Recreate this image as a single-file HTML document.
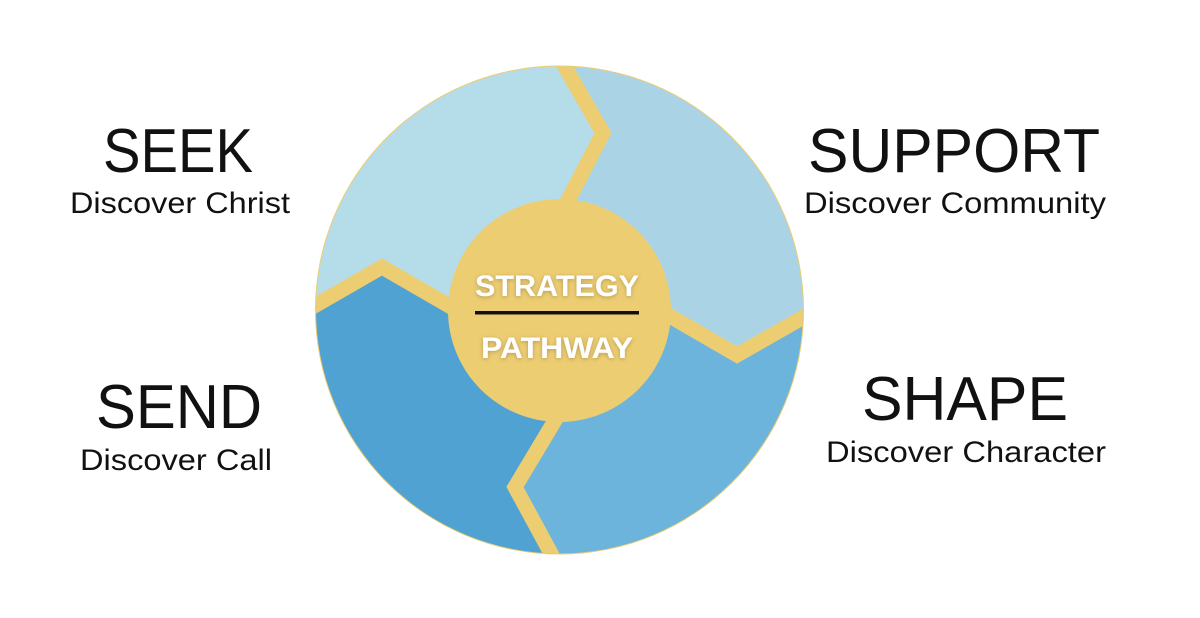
<!DOCTYPE html>
<html><head><meta charset="utf-8"><style>
html,body{margin:0;padding:0;background:#fff;width:1200px;height:618px;overflow:hidden}
svg{display:block}
text{font-family:"Liberation Sans",sans-serif}
</style></head><body>
<svg width="1200" height="618" viewBox="0 0 1200 618" xmlns="http://www.w3.org/2000/svg">
<defs>
<clipPath id="c"><circle cx="559.5" cy="310" r="243.5"/></clipPath>
<filter id="sh" x="-20%" y="-50%" width="140%" height="200%"><feDropShadow dx="0" dy="1" stdDeviation="2" flood-color="#000" flood-opacity="0.25"/></filter>
</defs>
<circle cx="559.5" cy="310" r="244.5" fill="#edcd72"/>
<g clip-path="url(#c)">
<polygon fill="#b5dce9" points="559,310 563,200 603,133 565,67 565,0 0,0 0,305 316,305 382,267 448,305"/>
<polygon fill="#aad4e6" points="559,310 563,200 603,133 565,67 565,0 1200,0 1200,317 803,317 737,355 671,317"/>
<polygon fill="#6db4dc" points="559,310 671,317 737,355 803,317 1200,317 1200,618 555,618 555,553 515,487 555,422"/>
<polygon fill="#4fa2d1" points="559,310 555,422 515,487 555,553 555,618 0,618 0,305 316,305 382,267 448,305"/>
<g fill="none" stroke="#edcd72" stroke-width="15" stroke-linejoin="miter">
<polyline points="563,210 603,133 565,67 550,40"/>
<polyline points="290,320 382,267 458,311"/>
<polyline points="661,311 737,355 830,302"/>
<polyline points="560,412 515,487 560,570"/>
</g>
</g>
<circle cx="559.5" cy="310.5" r="111.5" fill="#edcd72"/>
<g filter="url(#sh)" fill="#fff" font-weight="bold" font-size="30" text-anchor="middle">
<text x="557" y="296" textLength="164" lengthAdjust="spacingAndGlyphs">STRATEGY</text>
<text x="557" y="358" textLength="152" lengthAdjust="spacingAndGlyphs">PATHWAY</text>
</g>
<rect x="475" y="311" width="164" height="3.5" fill="#111"/>
<g fill="#111" text-anchor="middle">
<text x="178" y="172" font-size="62" textLength="150" lengthAdjust="spacingAndGlyphs">SEEK</text>
<text x="180" y="213" font-size="30" textLength="220" lengthAdjust="spacingAndGlyphs">Discover Christ</text>
<text x="954" y="172" font-size="62" textLength="292" lengthAdjust="spacingAndGlyphs">SUPPORT</text>
<text x="955" y="213" font-size="30" textLength="302" lengthAdjust="spacingAndGlyphs">Discover Community</text>
<text x="179" y="428" font-size="62" textLength="166" lengthAdjust="spacingAndGlyphs">SEND</text>
<text x="176" y="470" font-size="30" textLength="192" lengthAdjust="spacingAndGlyphs">Discover Call</text>
<text x="965" y="420" font-size="62" textLength="206" lengthAdjust="spacingAndGlyphs">SHAPE</text>
<text x="966" y="462" font-size="30" textLength="280" lengthAdjust="spacingAndGlyphs">Discover Character</text>
</g>
</svg>
</body></html>
